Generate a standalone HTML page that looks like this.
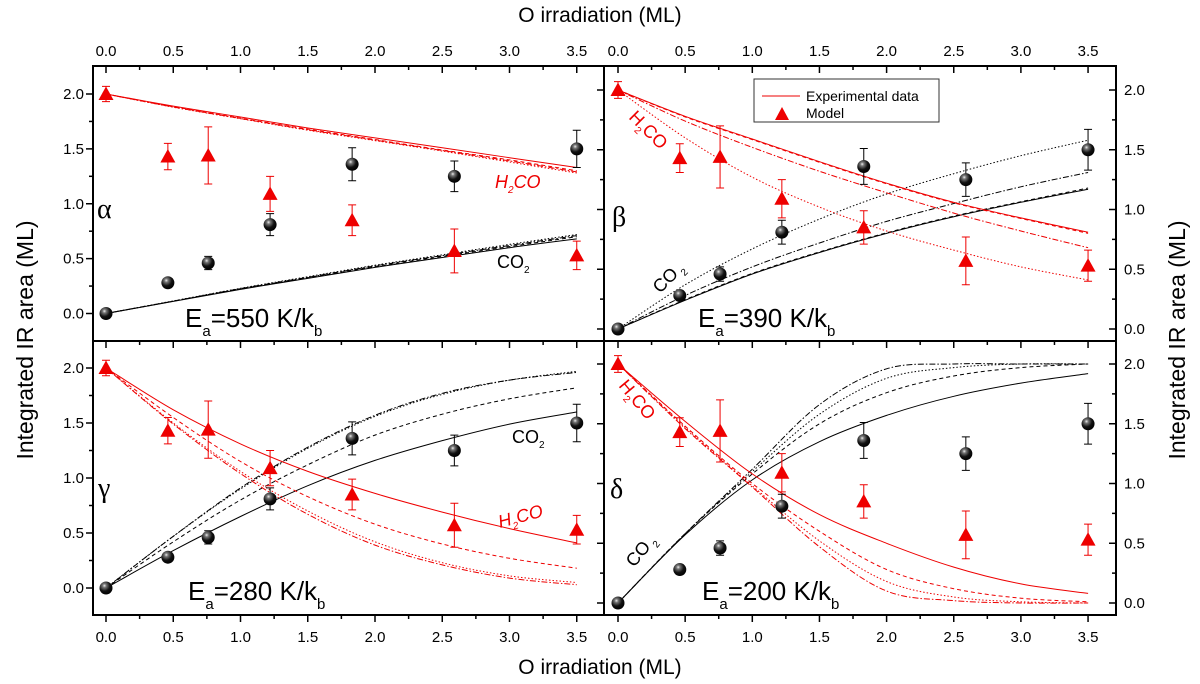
<!DOCTYPE html>
<html><head><meta charset="utf-8"><style>
body{margin:0;background:#fff}
svg{display:block;font-family:"Liberation Sans",sans-serif}
</style></head><body>
<svg id="fig" width="1200" height="684" viewBox="0 0 1200 684" xmlns="http://www.w3.org/2000/svg">
<defs>
<radialGradient id="sph" cx="0.38" cy="0.32" r="0.7"><stop offset="0" stop-color="#eee"/><stop offset="0.2" stop-color="#777"/><stop offset="0.6" stop-color="#111"/><stop offset="1" stop-color="#000"/></radialGradient>
</defs>
<g id="axes"></g>
<g id="marks"></g>
<text x="600" y="22" font-size="21" text-anchor="middle">O irradiation (ML)</text>
<text x="600" y="674" font-size="21" text-anchor="middle">O irradiation (ML)</text>
<text transform="translate(33,340) rotate(-90)" font-size="23" text-anchor="middle">Integrated IR area (ML)</text>
<text transform="translate(1185,340) rotate(-90)" font-size="23" text-anchor="middle">Integrated IR area (ML)</text>
<g>
<rect x="754" y="79" width="185" height="43" fill="#fff" stroke="#333" stroke-width="1"/>
<line x1="762" y1="96" x2="800" y2="96" stroke="#e00" stroke-width="1"/>
<text x="806" y="101" font-size="14">Experimental data</text>
<polygon points="775,120 789,120 782,107" fill="#e00"/>
<text x="806" y="118" font-size="14">Model</text>
</g>
<g font-family="Liberation Serif,serif" font-size="28">
<text x="97" y="218">α</text>
<text x="612" y="226">β</text>
<text x="98" y="497">γ</text>
<text x="610" y="498">δ</text>
</g>
<g font-size="26">
<text x="185" y="327">E<tspan font-size="15" dy="9">a</tspan><tspan dy="-9">=550 K/k</tspan><tspan font-size="15" dy="9">b</tspan></text>
<text x="698" y="327">E<tspan font-size="15" dy="9">a</tspan><tspan dy="-9">=390 K/k</tspan><tspan font-size="15" dy="9">b</tspan></text>
<text x="188" y="600">E<tspan font-size="15" dy="9">a</tspan><tspan dy="-9">=280 K/k</tspan><tspan font-size="15" dy="9">b</tspan></text>
<text x="702" y="600">E<tspan font-size="15" dy="9">a</tspan><tspan dy="-9">=200 K/k</tspan><tspan font-size="15" dy="9">b</tspan></text>
</g>
<g font-size="18">
<text x="495" y="188" fill="#e00" font-style="italic">H<tspan font-size="10" dy="5">2</tspan><tspan dy="-5">CO</tspan></text>
<text x="497" y="268">CO<tspan font-size="10" dy="5">2</tspan></text>
<text transform="translate(628,118) rotate(45)" fill="#e00">H<tspan font-size="10" dy="5">2</tspan><tspan dy="-5">CO</tspan></text>
<text transform="translate(660,294) rotate(-45)">CO<tspan font-size="10" dy="5"> 2</tspan></text>
<text x="512" y="443">CO<tspan font-size="10" dy="5">2</tspan></text>
<text transform="translate(500,528) rotate(-15)" fill="#e00" font-style="italic">H<tspan font-size="10" dy="5">2</tspan><tspan dy="-5">CO</tspan></text>
<text transform="translate(618,386) rotate(50)" fill="#e00">H<tspan font-size="10" dy="5">2</tspan><tspan dy="-5">CO</tspan></text>
<text transform="translate(634,568) rotate(-50)">CO<tspan font-size="10" dy="5"> 2</tspan></text>
</g>
</svg>
<script>
// data
const expX = [0, 0.46, 0.76, 1.22, 1.83, 2.59, 3.5];
const h2coPts = [2.0, 1.43, 1.44, 1.09, 0.85, 0.57, 0.53];
const h2coErr = [0.07, 0.12, 0.26, 0.16, 0.14, 0.2, 0.13];
const co2Pts = [0, 0.28, 0.46, 0.81, 1.36, 1.25, 1.5];
const co2Err = [0.02, 0.03, 0.06, 0.1, 0.15, 0.14, 0.17];
const modelX = [0, 0.5, 1.0, 1.5, 2.0, 2.5, 3.0, 3.5];
const alphaH2co = [[2.0,1.89,1.79,1.69,1.6,1.51,1.42,1.33],[2.0,1.885,1.78,1.68,1.585,1.49,1.4,1.3],[2.0,1.88,1.775,1.67,1.575,1.48,1.38,1.28],[2.0,1.882,1.777,1.675,1.58,1.485,1.39,1.29]];
const alphaCo2 = [[0,0.11,0.22,0.32,0.42,0.51,0.6,0.68],[0,0.112,0.224,0.326,0.428,0.52,0.61,0.7],[0,0.115,0.23,0.335,0.44,0.535,0.63,0.72],[0,0.113,0.227,0.33,0.434,0.528,0.62,0.71]];
const betaH2co = [[2.0,1.78,1.59,1.4,1.22,1.06,0.93,0.81],[2.0,1.775,1.585,1.395,1.215,1.055,0.925,0.8],[2.0,1.6,1.27,1.02,0.82,0.66,0.52,0.41],[2.0,1.74,1.52,1.32,1.14,0.97,0.82,0.68]];
const betaCo2 = [[0,0.24,0.46,0.64,0.8,0.94,1.06,1.17],[0,0.245,0.465,0.645,0.805,0.945,1.065,1.18],[0,0.37,0.67,0.92,1.13,1.3,1.45,1.58],[0,0.28,0.52,0.72,0.9,1.05,1.19,1.31]];
const gammaH2co = [[2.0,1.62,1.31,1.06,0.86,0.69,0.54,0.41],[2.0,1.55,1.15,0.83,0.58,0.4,0.27,0.18],[2.0,1.5,1.06,0.7,0.42,0.23,0.11,0.05],[2.0,1.49,1.04,0.67,0.39,0.21,0.09,0.03]];
const gammaCo2 = [[0,0.34,0.65,0.93,1.16,1.34,1.49,1.6],[0,0.42,0.8,1.12,1.39,1.58,1.72,1.82],[0,0.47,0.9,1.27,1.56,1.76,1.89,1.97],[0,0.47,0.91,1.28,1.57,1.77,1.89,1.96]];
const deltaH2co = [[2.0,1.52,1.08,0.74,0.5,0.3,0.16,0.08],[2.0,1.48,1.0,0.6,0.28,0.12,0.04,0.01],[2.0,1.47,0.98,0.52,0.18,0.05,0.01,0.0],[2.0,1.46,0.97,0.47,0.1,0.02,0.0,0.0]];
const deltaCo2 = [[0,0.57,1.03,1.35,1.57,1.73,1.84,1.92],[0,0.58,1.08,1.5,1.76,1.9,1.97,2.0],[0,0.58,1.1,1.58,1.88,1.97,2.0,2.0],[0,0.58,1.12,1.66,1.96,2.0,2.0,2.0]];
const xTicks = [0, 0.5, 1.0, 1.5, 2.0, 2.5, 3.0, 3.5];
const yTicks = [0, 0.5, 1.0, 1.5, 2.0];

const NS = "http://www.w3.org/2000/svg";
const axesG = document.getElementById('axes');
const marksG = document.getElementById('marks');
function mk(tag, attrs, parent){const e=document.createElementNS(NS,tag);for(const k in attrs)e.setAttribute(k,attrs[k]);parent.appendChild(e);return e;}

const panels = [
 {name:'alpha', x0:106, xs:134.5, y0:313.5, ys:109.75, top:66, bot:341, left:93, right:604, h:alphaH2co, c:alphaCo2, ylab:'left'},
 {name:'beta', x0:618, xs:134.3, y0:329, ys:119.5, top:66, bot:341, left:604, right:1116, h:betaH2co, c:betaCo2, ylab:'right'},
 {name:'gamma', x0:106, xs:134.5, y0:588, ys:110, top:341, bot:615, left:93, right:604, h:gammaH2co, c:gammaCo2, ylab:'left'},
 {name:'delta', x0:618, xs:134.3, y0:603, ys:119.5, top:341, bot:615, left:604, right:1116, h:deltaH2co, c:deltaCo2, ylab:'right'}
];
const dashes = ['', '4,3', '1.5,2', '6,2,1.5,2'];

function pathFrom(p, xs, ys){
  const pts = xs.map((x,i)=>[p.x0+x*p.xs, p.y0-ys[i]*p.ys]);
  let d = 'M'+pts[0][0].toFixed(1)+','+pts[0][1].toFixed(1);
  for(let i=0;i<pts.length-1;i++){
    const p0=pts[Math.max(0,i-1)], p1=pts[i], p2=pts[i+1], p3=pts[Math.min(pts.length-1,i+2)];
    const c1=[p1[0]+(p2[0]-p0[0])/6, p1[1]+(p2[1]-p0[1])/6];
    const c2=[p2[0]-(p3[0]-p1[0])/6, p2[1]-(p3[1]-p1[1])/6];
    d+=' C'+c1[0].toFixed(1)+','+c1[1].toFixed(1)+' '+c2[0].toFixed(1)+','+c2[1].toFixed(1)+' '+p2[0].toFixed(1)+','+p2[1].toFixed(1);
  }
  return d;
}

mk('rect',{x:93,y:66,width:1023,height:549,fill:'none',stroke:'#000','stroke-width':2},axesG);
mk('line',{x1:604,y1:66,x2:604,y2:615,stroke:'#000','stroke-width':2},axesG);
mk('line',{x1:93,y1:341,x2:1116,y2:341,stroke:'#000','stroke-width':2},axesG);

panels.forEach(p=>{
  for(let v=0; v<=3.75; v+=0.25){
    const px=p.x0+v*p.xs; if(px>=p.right-1) continue;
    const major = Math.abs(v*2-Math.round(v*2))<1e-6;
    const L = major?7:4;
    const t1 = mk('line',{x1:px,y1:p.top,x2:px,y2:p.top+L,stroke:'#000','stroke-width':1.5},axesG);
    
    
    if(p.bot===615){
      const t2 = mk('line',{x1:px,y1:615,x2:px,y2:615+L,stroke:'#000','stroke-width':1.5},axesG);
      
      
    }
  }
  if(p.top===66 || p.bot===615){
    xTicks.forEach(v=>{
      const px=p.x0+v*p.xs;
      const ty = p.top===66 ? 56 : 642;
      const t = mk('text',{x:px,y:ty,'font-size':15,'text-anchor':'middle'},axesG);
      t.textContent=v.toFixed(1);
      
      
    });
  }
  for(let v=-0.5; v<=2.25; v+=0.25){
    const py=p.y0-v*p.ys; if(py<=p.top+2||py>=p.bot-2) continue;
    const major = Math.abs(v*2-Math.round(v*2))<1e-6;
    const L = major?7:4;
    const t = mk('line',{x1:p.left-L,y1:py,x2:p.left,y2:py,stroke:'#000','stroke-width':1.5},axesG);
    
    
    if(p.ylab==='right'){
      const t3 = mk('line',{x1:1116-L,y1:py,x2:1116,y2:py,stroke:'#000','stroke-width':1.5},axesG);
      
      
    }
  }
  yTicks.forEach(v=>{
    const py=p.y0-v*p.ys;
    const t = p.ylab==='left' ? mk('text',{x:84,y:py+5,'font-size':15,'text-anchor':'end'},axesG)
                              : mk('text',{x:1124,y:py+5,'font-size':15,'text-anchor':'start'},axesG);
    t.textContent=v.toFixed(1);
    
    
  });
  const g = mk('g',{},marksG);
  
  
  p.c.forEach((ys,k)=>{
    const e = mk('path',{d:pathFrom(p,modelX,ys),fill:'none',stroke:'#000','stroke-width':1,'stroke-dasharray':dashes[k]},g);
    
    
  });
  p.h.forEach((ys,k)=>{
    const e = mk('path',{d:pathFrom(p,modelX,ys),fill:'none',stroke:'#e00','stroke-width':1,'stroke-dasharray':dashes[k]},g);
    
    
  });
  expX.forEach((x,i)=>{
    const px=p.x0+x*p.xs;
    const cy=p.y0-co2Pts[i]*p.ys, ce=co2Err[i]*p.ys;
    const eb = mk('path',{d:`M${px},${cy-ce}V${cy+ce}M${px-4},${cy-ce}H${px+4}M${px-4},${cy+ce}H${px+4}`,stroke:'#000','stroke-width':1,fill:'none'},g);
    
    
    const hy=p.y0-h2coPts[i]*p.ys, he=h2coErr[i]*p.ys;
    const eb2 = mk('path',{d:`M${px},${hy-he}V${hy+he}M${px-4},${hy-he}H${px+4}M${px-4},${hy+he}H${px+4}`,stroke:'#e00','stroke-width':1,fill:'none'},g);
    
    
    const c = mk('circle',{cx:px,cy:cy,r:6.5,fill:'url(#sph)'},g);
    
    
    const tr = mk('polygon',{points:`${px-7.5},${hy+6} ${px+7.5},${hy+6} ${px},${hy-7.5}`,fill:'#e00'},g);
    
    
  });
});
</script>
</body></html>
